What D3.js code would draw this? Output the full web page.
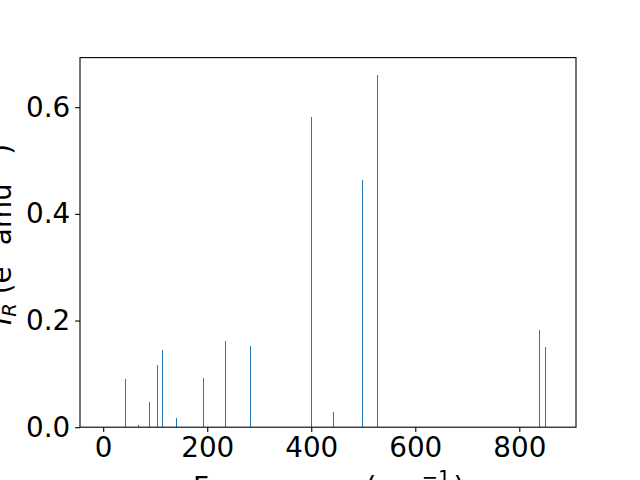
<!DOCTYPE html>
<html>
<head>
<meta charset="utf-8">
<script src="https://cdn.jsdelivr.net/npm/d3@7"></script>
<style>
  html, body { margin: 0; padding: 0; background: #fff; }
  svg { display: block; }
  text { font-family: "DejaVu Sans", sans-serif; }
</style>
</head>
<body>
<script>
// Data
const frequencies = [42.3, 67.3, 88.5, 103.8, 113.5, 140.4, 192.3, 234.6, 282.7, 400.0, 442.3, 498.0, 527.0, 838.5, 850.0];
const intensities = [0.0906, 0.0043, 0.0474, 0.1168, 0.145, 0.0174, 0.0924, 0.162, 0.1524, 0.582, 0.0287, 0.4637, 0.6607, 0.1826, 0.1506];
const xTicks = [0, 200, 400, 600, 800];
const yTicks = [0.0, 0.2, 0.4, 0.6];

const W = 640, H = 480;
const L = 80, R = 576, T = 57.6, B = 427.2;
const fs = 27.8;
const barColor = "#1f77b4";

const svg = d3.select("body").append("svg").attr("width", W).attr("height", H);

const x = d3.scaleLinear().domain([-44.6, 909]).range([L, R]);
const y = d3.scaleLinear().domain([0, 0.693]).range([B, T]);

// bars
svg.append("g").attr("shape-rendering", "crispEdges").selectAll("rect")
  .data(frequencies.map((f, i) => ({f, v: intensities[i]})))
  .join("rect")
  .attr("x", d => x(d.f) - 0.5)
  .attr("width", d => Math.max(1, x(d.f + 1) - x(d.f - 1)))
  .attr("y", d => y(d.v))
  .attr("height", d => y(0) - y(d.v))
  .attr("fill", barColor);

// axes
const xAxis = d3.axisBottom(x).tickValues(xTicks).tickFormat(d3.format("d"))
  .tickSize(4.86).tickPadding(4.86);
const yAxis = d3.axisLeft(y).tickValues(yTicks).tickFormat(d3.format(".1f"))
  .tickSize(4.86).tickPadding(4.86);

const gx = svg.append("g").attr("transform", `translate(0,${B})`).call(xAxis);
const gy = svg.append("g").attr("transform", `translate(${L},0)`).call(yAxis);
[gx, gy].forEach(g => {
  g.select(".domain").remove();
  g.selectAll(".tick line").attr("stroke", "#000").attr("stroke-width", 1.1);
  g.selectAll(".tick text").attr("font-size", fs).attr("fill", "#000")
    .attr("font-family", "DejaVu Sans");
});

// frame
svg.append("rect").attr("x", L).attr("y", T).attr("width", R - L).attr("height", B - T)
  .attr("fill", "none").attr("stroke", "#000").attr("stroke-width", 1.1);

// x label (mostly below the visible area, as in the reference)
const xl = svg.append("text").attr("x", 193).attr("y", 497)
  .attr("text-anchor", "start").attr("font-size", fs).attr("fill", "#000");
xl.append("tspan").text("Frequency");
xl.append("tspan").attr("x", 365.5).text("(cm");
xl.append("tspan").attr("font-size", fs * 0.7).attr("dx", 3).attr("dy", -fs * 0.45).text("\u22121");
xl.append("tspan").attr("font-size", fs).attr("dx", 3).attr("dy", fs * 0.45).text(")");

// y label
const yl = svg.append("text").attr("transform", `translate(10.5,${(T + B) / 2 - 8}) rotate(-90)`)
  .attr("text-anchor", "middle").attr("font-size", fs).attr("fill", "#000");
yl.append("tspan").attr("font-style", "italic").text("I");
yl.append("tspan").attr("font-size", fs * 0.7).attr("font-style", "italic").attr("dy", fs * 0.2).text("R");
yl.append("tspan").attr("dy", -fs * 0.2).text(" (e");
yl.append("tspan").attr("font-size", fs * 0.7).attr("dy", -fs * 0.42).text("2");
yl.append("tspan").attr("dy", fs * 0.42).text(" amu");
yl.append("tspan").attr("font-size", fs * 0.7).attr("dy", -fs * 0.42).text("\u22121");
yl.append("tspan").attr("dy", fs * 0.42).text(")");
</script>
</body>
</html>
